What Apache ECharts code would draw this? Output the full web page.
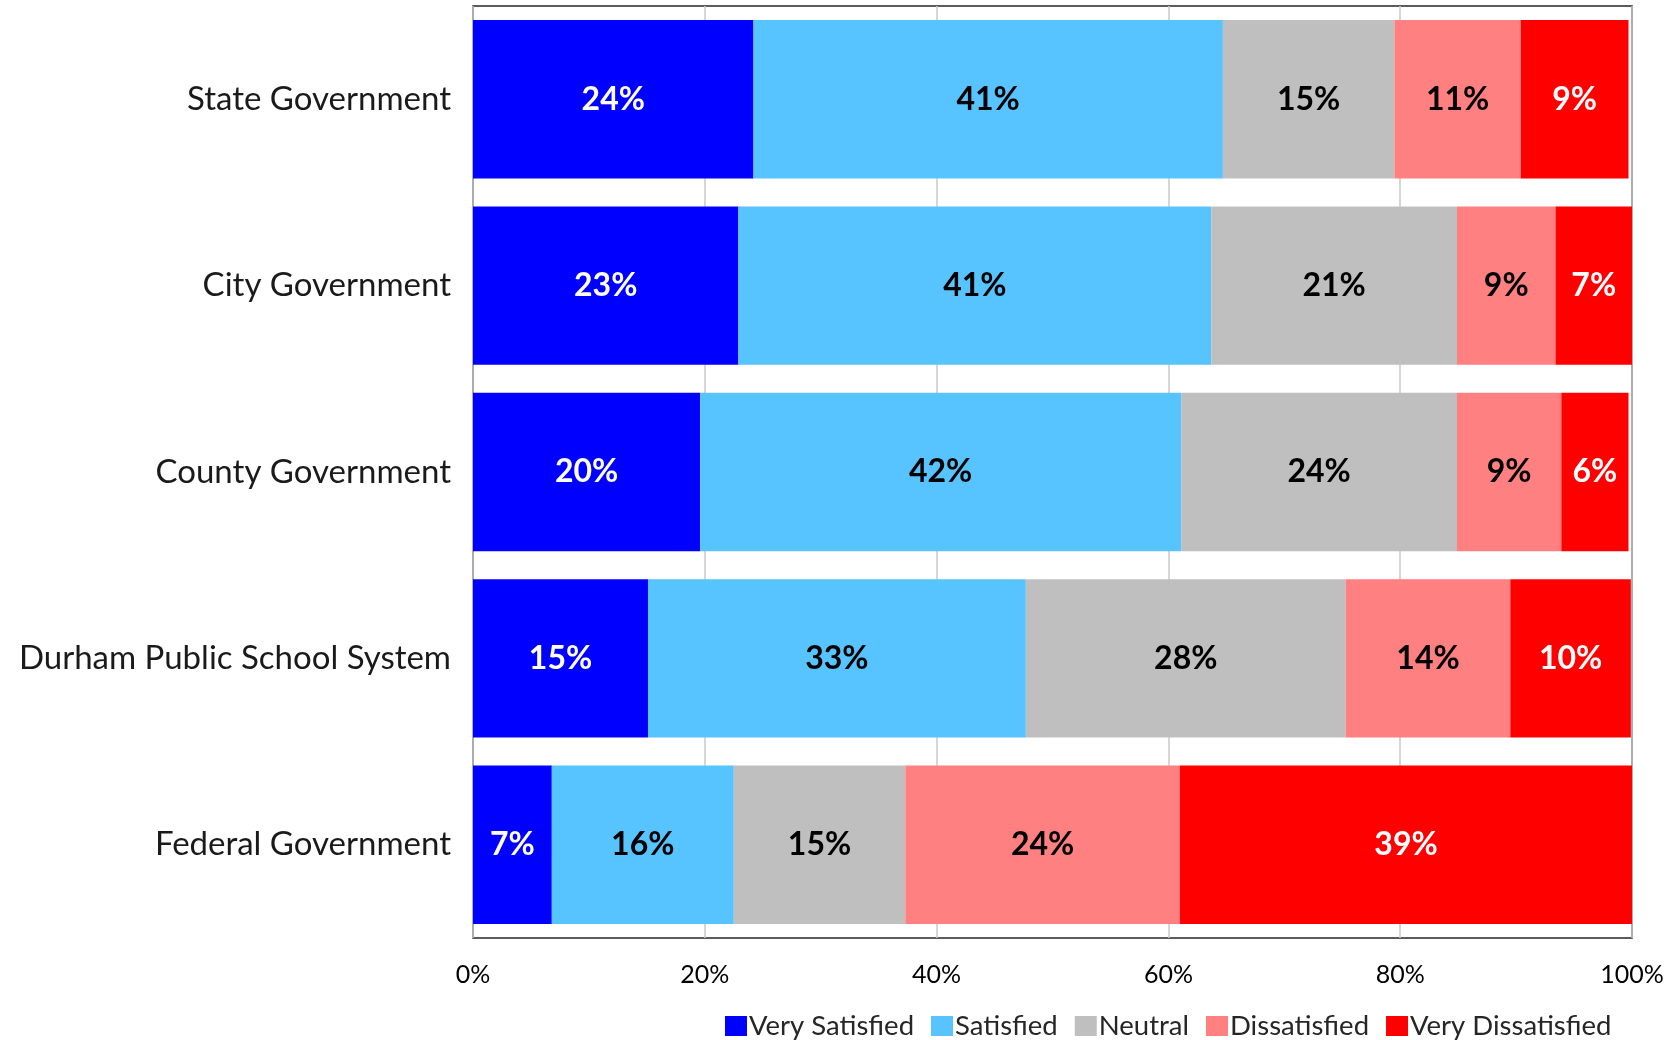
<!DOCTYPE html>
<html>
<head>
<meta charset="utf-8">
<script src="https://cdn.jsdelivr.net/npm/echarts@6/dist/echarts.min.js"></script>
<style>
html,body{margin:0;padding:0;background:#fff;}
#chart{width:1677px;height:1040px;}
</style>
</head>
<body>
<div id="chart"></div>
<script>
const categories = ['State Government', 'City Government', 'County Government', 'Durham Public School System', 'Federal Government'];
const seriesNames = ['Very Satisfied', 'Satisfied', 'Neutral', 'Dissatisfied', 'Very Dissatisfied'];
const verySatisfied    = [24.2, 22.9, 19.6, 15.1, 6.8];
const satisfied        = [40.5, 40.8, 41.5, 32.6, 15.7];
const neutral          = [14.8, 21.2, 23.8, 27.6, 14.8];
const dissatisfied     = [10.9, 8.5, 9.0, 14.2, 23.7];
const veryDissatisfied = [9.3, 6.6, 5.8, 10.4, 39.0];
const tickValues = [0, 20, 40, 60, 80, 100];

const colors = ['#0000FF', '#57C3FF', '#BFBFBF', '#FF8080', '#FF0000'];
const labelColors = ['#FFFFFF', '#000000', '#000000', '#000000', '#FFFFFF'];
const values = [verySatisfied, satisfied, neutral, dissatisfied, veryDissatisfied];

const FONT = 'Lato, "Open Sans", sans-serif';
const chart = echarts.init(document.getElementById('chart'));
chart.setOption({
  animation: false,
  backgroundColor: '#fff',
  grid: {
    left: 473, right: 45, top: 6, bottom: 102,
    show: true, borderColor: '#262626', borderWidth: 1.5, backgroundColor: '#fff'
  },
  legend: {
    left: 720, top: 1007,
    itemWidth: 22, itemHeight: 20, itemGap: 17,
    icon: 'rect',
    textStyle: { fontFamily: FONT, fontSize: 27.5, color: '#262626', padding: [0, 0, 0, -3] },
    data: seriesNames
  },
  xAxis: {
    type: 'value', min: tickValues[0], max: tickValues[tickValues.length - 1], interval: 20,
    axisLine: { show: false }, axisTick: { show: false },
    splitLine: { show: true, lineStyle: { color: '#C8C8C8', width: 1.5 } },
    axisLabel: { formatter: '{value}%', fontFamily: FONT, fontSize: 25, color: '#000', margin: 24 }
  },
  yAxis: {
    type: 'category', inverse: true, data: categories,
    axisLine: { show: false }, axisTick: { show: false },
    axisLabel: { fontFamily: FONT, fontSize: 33, color: '#1a1a1a', margin: 22 }
  },
  series: seriesNames.map((name, i) => ({
    name: name,
    type: 'bar',
    stack: 'total',
    barCategoryGap: '15%',
    itemStyle: { color: colors[i] },
    label: {
      show: true, position: 'inside',
      formatter: p => Math.round(p.value) + '%',
      fontFamily: FONT, fontWeight: 'bold', fontSize: 32, color: labelColors[i]
    },
    data: values[i]
  }))
});
</script>
</body>
</html>
